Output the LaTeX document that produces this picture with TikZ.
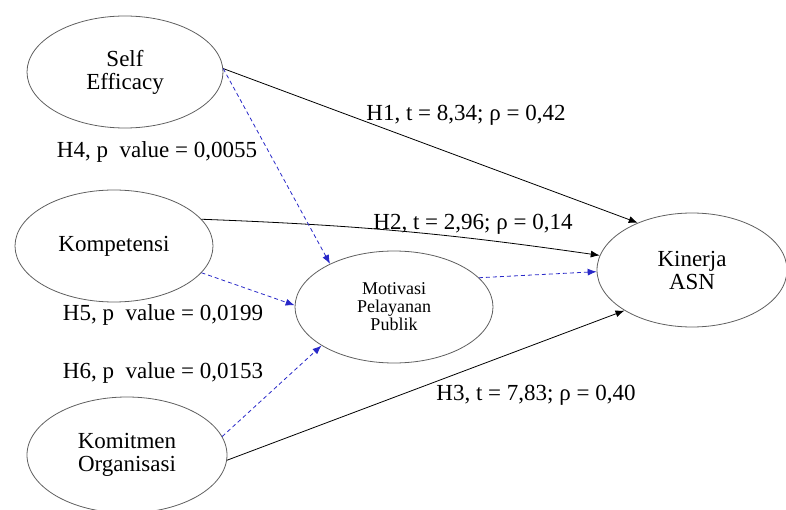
\documentclass[tikz,border=0pt]{standalone}
\usepackage{fontspec}
\setmainfont{Liberation Serif}
\usetikzlibrary{arrows.meta,shapes.geometric}
\definecolor{pathBlue}{RGB}{40,40,200}
\definecolor{rimGray}{RGB}{95,95,95}

\begin{document}
\begin{tikzpicture}[x=1pt,y=-1pt,
        construct/.style={ellipse,draw=rimGray,thick,align=center,inner sep=0pt,
          font=\fontsize{23}{23}\selectfont,minimum width=196pt,minimum height=112pt},
        hyplabel/.style={font=\fontsize{23}{24}\selectfont,inner sep=0pt},
        arrow/.style={-{Latex[length=9pt,width=7pt]},thick},
        mediated/.style={-{Latex[length=9pt,width=7pt]},thick,pathBlue,dash pattern=on 4pt off 3pt}
      ]
        \useasboundingbox (0,0) rectangle (786,510);
        \node[construct] (self) at (125,72) {Self\\Efficacy};
        \node[construct,minimum width=198pt] (komp) at (114,246) {Kompetensi};
        \node[construct,minimum width=200pt,minimum height=116pt] (komit) at (127,455) {Komitmen\\Organisasi};
        \node[construct,font=\fontsize{18}{18}\selectfont,minimum width=198pt] (motiv) at (394,307) {Motivasi\\Pelayanan\\Publik};
        \node[construct,minimum width=190pt,minimum height=114pt] (kinerja) at (692,270) {Kinerja\\ASN};

        \node[hyplabel] (h1) at (466,115) {H1, t = 8,34; ρ = 0,42};
        \node[hyplabel] (h2) at (473,224) {H2, t = 2,96; ρ = 0,14};
        \node[hyplabel] (h3) at (536,395) {H3, t = 7,83; ρ = 0,40};
        \node[hyplabel] (h4) at (157,152) {H4, p\ \ value = 0,0055};
        \node[hyplabel] (h5) at (163,315) {H5, p\ \ value = 0,0199};
        \node[hyplabel] (h6) at (163,373) {H6, p\ \ value = 0,0153};

        \draw[arrow] (self.2) -- (kinerja.139);
        \draw[arrow] (komp.17) to[bend left=3] (kinerja.171);
        \draw[arrow] (komit.357) -- (kinerja.211);
        \draw[mediated] (self.2) -- (motiv.146);
        \draw[mediated] (komp.343) -- (motiv.179);
        \draw[mediated] (komit.11) -- (motiv.208);
        \draw[mediated] (motiv.19) -- (kinerja.181);
      \end{tikzpicture}
\end{document}
